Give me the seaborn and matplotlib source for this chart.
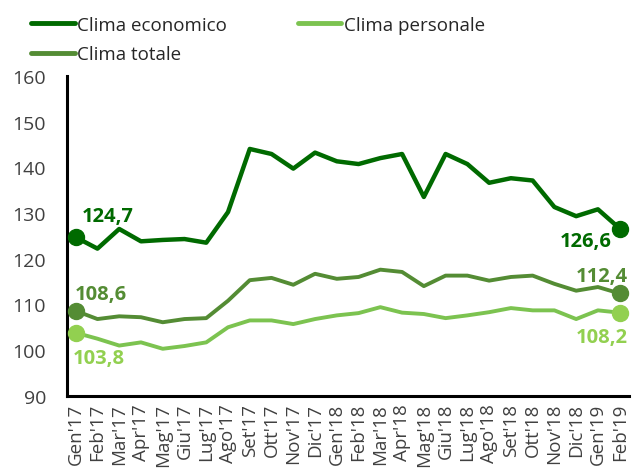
import pandas as pd
import seaborn as sns
import matplotlib
matplotlib.use('Agg')
import matplotlib.pyplot as plt

# Mesi e valori
mesi = ["Gen'17", "Feb'17", "Mar'17", "Apr'17", "Mag'17", "Giu'17", "Lug'17", "Ago'17",
        "Set'17", "Ott'17", "Nov'17", "Dic'17", "Gen'18", "Feb'18", "Mar'18", "Apr'18",
        "Mag'18", "Giu'18", "Lug'18", "Ago'18", "Set'18", "Ott'18", "Nov'18", "Dic'18",
        "Gen'19", "Feb'19"]

clima_economico = [124.7, 122.2, 126.5, 123.8, 124.1, 124.3, 123.5, 130.2,
                   144.0, 142.9, 139.7, 143.2, 141.3, 140.7, 142.0, 142.9,
                   133.5, 142.9, 140.7, 136.6, 137.6, 137.1, 131.3, 129.3,
                   130.8, 126.6]

clima_personale = [103.8, 102.5, 101.0, 101.7, 100.3, 100.9, 101.7, 105.0,
                   106.5, 106.5, 105.7, 106.8, 107.6, 108.1, 109.4, 108.2,
                   107.9, 107.0, 107.6, 108.3, 109.2, 108.7, 108.7, 106.8,
                   108.7, 108.2]

clima_totale = [108.6, 106.8, 107.4, 107.2, 106.1, 106.8, 107.0, 110.8,
                115.3, 115.8, 114.3, 116.7, 115.6, 116.0, 117.6, 117.1,
                114.0, 116.3, 116.3, 115.2, 116.0, 116.3, 114.5, 113.0,
                113.8, 112.4]

serie = ['Clima economico', 'Clima totale', 'Clima personale']
colori = {'Clima economico': '#006a00', 'Clima totale': '#548c34', 'Clima personale': '#7cc350'}
colori_punti = {'Clima economico': '#006a00', 'Clima totale': '#548c34', 'Clima personale': '#92d050'}
spessori = {'Clima economico': 3.2, 'Clima totale': 2.8, 'Clima personale': 2.8}

df = pd.DataFrame({
    'x': list(range(len(mesi))) * 3,
    'valore': clima_economico + clima_totale + clima_personale,
    'serie': [s for s in serie for _ in mesi],
})

sns.set_style('white')
plt.rcParams['font.family'] = ['Open Sans', 'DejaVu Sans']

fig = plt.figure(figsize=(6.32, 4.77), dpi=100)
ax = fig.add_axes([0.106, 0.168, 0.89, 0.671])

sns.lineplot(data=df, x='x', y='valore', hue='serie', hue_order=serie, palette=colori,
             ax=ax, legend=False, solid_capstyle='round', solid_joinstyle='round')
for line, s in zip(ax.get_lines(), serie):
    line.set_linewidth(spessori[s])

valori = {'Clima economico': clima_economico, 'Clima totale': clima_totale,
          'Clima personale': clima_personale}

# punti iniziali e finali con etichette
offsets = {
    'Clima economico': [((4, 8), 'left', 'bottom'), ((-6, -9), 'right', 'center')],
    'Clima totale': [((-1, 5), 'left', 'bottom'), ((6, 5), 'right', 'bottom')],
    'Clima personale': [((-2, -11), 'left', 'top'), ((6, -10), 'right', 'top')],
}
for s in serie:
    v = valori[s]
    for idx, (off, ha, va) in zip([0, len(mesi) - 1], offsets[s]):
        ax.plot(idx, v[idx], 'o', color=colori_punti[s], markersize=11.5, zorder=5)
        ax.annotate(f'{v[idx]:.1f}'.replace('.', ','), (idx, v[idx]), xytext=off,
                    textcoords='offset points', ha=ha, va=va, fontsize=14.5,
                    fontweight='bold', color=colori_punti[s])

ax.set_xlim(-0.4, 25.45)
ax.set_ylim(90, 160)
ax.set_yticks(range(90, 161, 10))
ax.set_xticks(range(len(mesi)))
ax.set_xticklabels(mesi, rotation=90, fontsize=13.5, color='#404040')
ax.tick_params(axis='y', labelsize=14, colors='#404040', length=0, pad=15)
ax.tick_params(axis='x', length=0, pad=5)
ax.set_xlabel('')
ax.set_ylabel('')

for side in ['top', 'right']:
    ax.spines[side].set_visible(False)
for side in ['left', 'bottom']:
    ax.spines[side].set_color('black')
    ax.spines[side].set_linewidth(2.2)

handles = [plt.Line2D([], [], color=colori[s], lw=3.5, solid_capstyle='round') for s in serie]
fig.legend(handles, serie, loc='upper left', bbox_to_anchor=(0.023, 1.0), ncol=2,
           frameon=False, fontsize=13.5, handlelength=2.3, handletextpad=0.15,
           columnspacing=3.77, labelspacing=0.6, labelcolor='#262626')

fig.savefig('out.png', dpi=100)
